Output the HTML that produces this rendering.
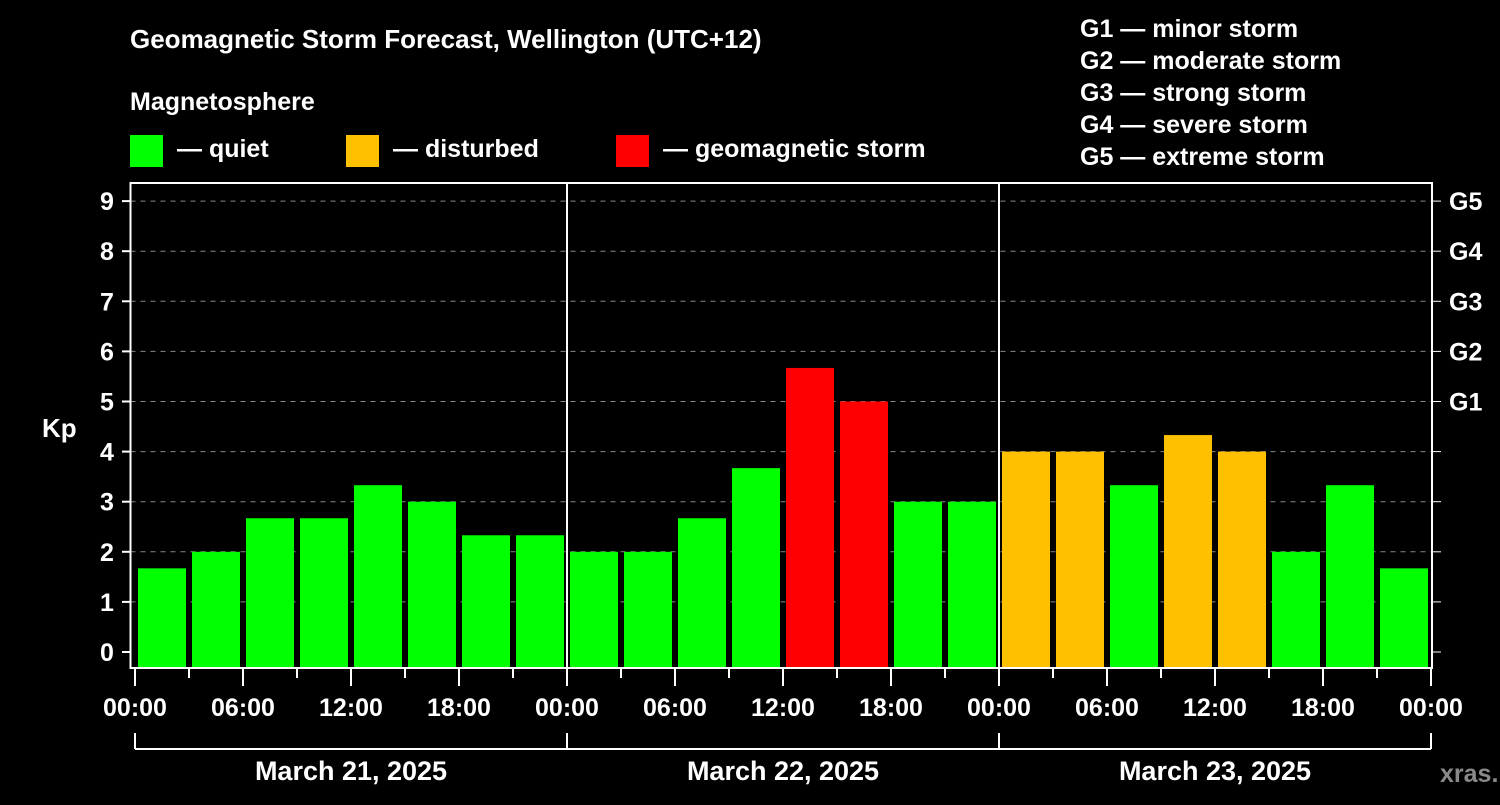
<!DOCTYPE html>
<html><head><meta charset="utf-8"><style>
body{margin:0;background:#000;width:1500px;height:800px;overflow:hidden}
svg text{font-family:"Liberation Sans",Arial,sans-serif;font-weight:bold;fill:#fff}
</style></head><body>
<svg id="chart" width="1500" height="800" xmlns="http://www.w3.org/2000/svg">
<text x="130" y="48" font-size="26">Geomagnetic Storm Forecast, Wellington (UTC+12)</text>
<text x="130" y="110" font-size="25">Magnetosphere</text>
<g><rect x="130" y="135" width="33" height="32" fill="#00ff00"/><text x="177" y="157" font-size="25">— quiet</text></g>
<g><rect x="346" y="135" width="33" height="32" fill="#ffc000"/><text x="393" y="157" font-size="25">— disturbed</text></g>
<g><rect x="616" y="135" width="33" height="32" fill="#ff0000"/><text x="663" y="157" font-size="25">— geomagnetic storm</text></g>
<g font-size="25">
<text x="1080" y="37">G1 — minor storm</text>
<text x="1080" y="69">G2 — moderate storm</text>
<text x="1080" y="101">G3 — strong storm</text>
<text x="1080" y="133">G4 — severe storm</text>
<text x="1080" y="165">G5 — extreme storm</text>
</g>
<text x="42" y="437" font-size="26">Kp</text>
<text x="1440" y="782" font-size="25" fill="#888" style="fill:#8a8a8a">xras.ru</text>
<g id="grid"></g><g id="bars"></g><g id="axes"></g>
</svg>
<script>
const dayLabels=["March 21, 2025","March 22, 2025","March 23, 2025"];
const timeLabels=["00:00","06:00","12:00","18:00"];
const gLabels=["G1","G2","G3","G4","G5"];
const kpValues=[1.67,2,2.67,2.67,3.33,3,2.33,2.33, 2,2,2.67,3.67,5.67,5,3,3, 4,4,3.33,4.33,4,2,3.33,1.67];
const yTicks=[0,1,2,3,4,5,6,7,8,9];

const NS="http://www.w3.org/2000/svg";
const x0=135,slot=54,plotL=130.5,plotR=1432,plotT=183,plotB=668;
function xs(i){return x0+i*slot;}
function ys(v){return 652-v*50.1;}
function mk(tag,attrs,parent,txt){const e=document.createElementNS(NS,tag);for(const k in attrs)e.setAttribute(k,attrs[k]);if(txt!==undefined)e.textContent=txt;document.getElementById(parent).appendChild(e);return e;}
// grid
for(const t of yTicks){
 if(t>=5){const g=mk('line',{x1:plotL,x2:plotR,y1:ys(t),y2:ys(t),stroke:'#888','stroke-dasharray':'5,5','stroke-width':1},'grid');
 
 }
 else if(t>=1){const g=mk('line',{x1:plotL,x2:plotR,y1:ys(t),y2:ys(t),stroke:'#888','stroke-dasharray':'5,5','stroke-width':1},'grid');
 
 }
 const tl=mk('line',{x1:122,x2:plotL,y1:ys(t),y2:ys(t),stroke:'#fff','stroke-width':2},'axes');
 
 
 const tr=mk('line',{x1:plotR,x2:1441,y1:ys(t),y2:ys(t),stroke:'#fff','stroke-width':1},'axes');
 
 
 const lb=mk('text',{x:107,y:ys(t)+9,'font-size':25,'text-anchor':'middle'},'axes',String(t));
 
 
}
gLabels.forEach((g,i)=>{const e=mk('text',{x:1449,y:ys(5+i)+9,'font-size':25},'axes',g);
 
 });
// bars
kpValues.forEach((v,i)=>{
 const c=v>=5?'#ff0000':(v>=4?'#ffc000':'#00ff00');
 const b=mk('rect',{x:xs(i)+3,y:ys(v),width:48,height:plotB-ys(v),fill:c},'bars');
 
 
});
// frame & day dividers
const fr=mk('rect',{x:plotL,y:plotT,width:plotR-plotL,height:plotB-plotT,fill:'none',stroke:'#fff','stroke-width':2},'axes');


for(let d=1;d<dayLabels.length;d++){const l=mk('line',{x1:xs(d*8),x2:xs(d*8),y1:plotT,y2:plotB,stroke:'#fff','stroke-width':2},'axes');
 
 }
// x ticks
for(let i=0;i<=kpValues.length;i++){
 const major=i%2===0;
 const t=mk('line',{x1:xs(i),x2:xs(i),y1:plotB,y2:major?686:678,stroke:'#fff','stroke-width':2},'axes');
 
 
 if(major){const lb=mk('text',{x:xs(i),y:716,'font-size':25,'text-anchor':'middle'},'axes',timeLabels[(i/2)%4]);
 
 }
}
// day brackets
const br=mk('line',{x1:xs(0),x2:xs(24),y1:749,y2:749,stroke:'#fff','stroke-width':2},'axes');


for(let d=0;d<=dayLabels.length;d++){const l=mk('line',{x1:xs(d*8),x2:xs(d*8),y1:733,y2:749,stroke:'#fff','stroke-width':2},'axes');
 
 }
dayLabels.forEach((s,d)=>{const e=mk('text',{x:(xs(d*8)+xs(d*8+8))/2,y:780,'font-size':27,'text-anchor':'middle'},'axes',s);
 
 });
</script>
</body></html>
